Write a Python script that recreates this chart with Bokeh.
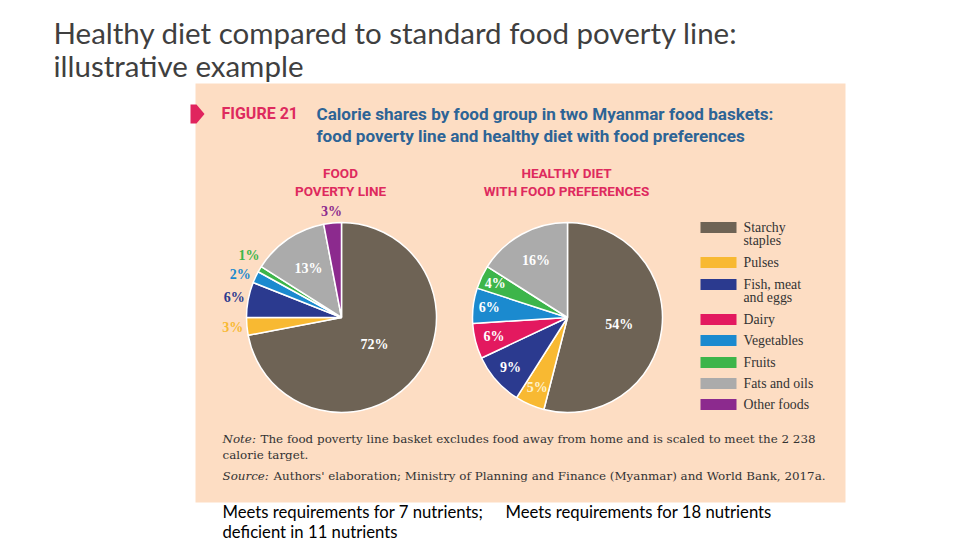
import math
from bokeh.plotting import figure
from bokeh.models import Range1d, ColumnDataSource
from bokeh.core.properties import value
from bokeh.embed import file_html
from bokeh.resources import INLINE

# ---------------- data ----------------
groups = ["Starchy staples", "Pulses", "Fish, meat and eggs", "Dairy",
          "Vegetables", "Fruits", "Fats and oils", "Other foods"]
legend_lines = [["Starchy", "staples"], ["Pulses"], ["Fish, meat", "and eggs"], ["Dairy"],
                ["Vegetables"], ["Fruits"], ["Fats and oils"], ["Other foods"]]
poverty_line = [72, 3, 6, 0, 2, 1, 13, 3]
healthy_diet = [54, 5, 9, 6, 6, 4, 16, 0]
colors = ["#6E6355", "#F8B932", "#2B3A8F", "#E3195F",
          "#1B8ACF", "#3DB54A", "#ABABAB", "#8C2A8E"]

# label placement (layout only): radius fraction and angular nudge (deg, clockwise)
frac_left = [0.45, 1.15, 1.15, 0.8, 1.16, 1.17, 0.62, 1.12]
nudge_left = [0, 0, 0, 0, -2, 3, 0, 0]
frac_right = [0.55, 0.8, 0.8, 0.8, 0.83, 0.84, 0.69, 0.8]
nudge_right = [0, 0, 0, 0, 0, 0, 0, 0]

W, H = 960, 540
def Y(py):
    return H - py

p = figure(width=W, height=H, x_range=Range1d(0, W), y_range=Range1d(0, H),
           output_backend="svg", toolbar_location=None, min_border=0,
           x_axis_location=None, y_axis_location=None)
p.grid.grid_line_color = None
p.outline_line_color = None
p.background_fill_color = "white"
p.border_fill_color = "white"

def txt(x, py, s, size, color, font, style="normal", align="left"):
    p.text(x=[x], y=[Y(py)], text=[s], text_font=value(font),
           text_font_size=value(f"{size}px"), text_color=color,
           text_font_style=style, text_align=align, text_baseline="middle")

# outer title
txt(53, 32, "Healthy diet compared to standard food poverty line:", 29.5, "#3F3F3F", "Lato")
txt(53, 65, "illustrative example", 29.5, "#3F3F3F", "Lato")

# panel
peach = "#FDDDC3"
p.quad(left=195, right=845, top=Y(83), bottom=Y(502), fill_color=peach, line_color=None)

# pink marker
p.patch(x=[190, 196, 204, 196, 190], y=[Y(104), Y(104), Y(113.5), Y(123), Y(123)],
        fill_color="#E0245E", line_color=None)

# figure header
pink = "#DE2A5E"
blue = "#2D6496"
txt(221, 113, "FIGURE 21", 16, pink, "Roboto", "bold")
txt(316, 113, "Calorie shares by food group in two Myanmar food baskets:", 17.1, blue, "Roboto", "bold")
txt(316, 135, "food poverty line and healthy diet with food preferences", 17.1, blue, "Roboto", "bold")

txt(340, 172, "FOOD", 13.5, pink, "Roboto", "bold", "center")
txt(340, 190, "POVERTY LINE", 13.5, pink, "Roboto", "bold", "center")
txt(566, 172, "HEALTHY DIET", 13.5, pink, "Roboto", "bold", "center")
txt(566, 190, "WITH FOOD PREFERENCES", 13.5, pink, "Roboto", "bold", "center")

# pies
R = 95
def pie(vals, cx, cy_px, fracs, nudges, inner_colors):
    total = float(sum(vals))
    cum = 0.0
    xs, ys, sa, ea, cols = [], [], [], [], []
    lx, ly, lt, lc = [], [], [], []
    for v, c, f, n, ic in zip(vals, colors, fracs, nudges, inner_colors):
        if v <= 0:
            continue
        s = cum / total
        e = (cum + v) / total
        cum += v
        xs.append(cx); ys.append(Y(cy_px))
        sa.append(math.pi / 2 - 2 * math.pi * e)
        ea.append(math.pi / 2 - 2 * math.pi * s)
        cols.append(c)
        m = math.pi / 2 - math.pi * (s + e) - math.radians(n)
        lx.append(cx + R * f * math.cos(m))
        ly.append(Y(cy_px) + R * f * math.sin(m))
        lt.append(f"{v}%")
        lc.append(c if f > 1 else ic)
    src = ColumnDataSource(dict(x=xs, y=ys, sa=sa, ea=ea, c=cols))
    p.wedge(x="x", y="y", radius=R, start_angle="sa", end_angle="ea",
            direction="anticlock", fill_color="c", line_color="white",
            line_width=1.5, source=src)
    lsrc = ColumnDataSource(dict(x=lx, y=ly, t=lt, c=lc))
    p.text(x="x", y="y", text="t", text_color="c", source=lsrc,
           text_font=value("Liberation Serif"), text_font_style="bold",
           text_font_size=value("14px"), text_align="center", text_baseline="middle")

inner_left = ["white"] * 8
inner_right = ["white", "#FFF2CC", "white", "white", "white", "white", "white", "white"]
pie(poverty_line, 341, 317, frac_left, nudge_left, inner_left)
pie(healthy_diet, 567, 317, frac_right, nudge_right, inner_right)

# legend
leg_y = [227, 262, 284, 319, 340, 362, 383, 404]
for lines, c, yy in zip(legend_lines, colors, leg_y):
    p.quad(left=700, right=736, top=Y(yy - 5.5), bottom=Y(yy + 5.5), fill_color=c, line_color=None)
    for i, ln in enumerate(lines):
        txt(743, yy + i * 13, ln, 13.8, "#333333", "Liberation Serif")

# note & source
ncol = "#333333"
fs = 11.9
nf = "DejaVu Serif"
txt(222, 438, "Note:", fs, ncol, nf, "italic")
txt(260, 438, "The food poverty line basket excludes food away from home and is scaled to meet the 2 238", fs, ncol, nf)
txt(222, 454, "calorie target.", fs, ncol, nf)
txt(222, 475, "Source:", fs, ncol, nf, "italic")
txt(273, 475, "Authors' elaboration; Ministry of Planning and Finance (Myanmar) and World Bank, 2017a.", fs, ncol, nf)

# captions
txt(222, 511, "Meets requirements for 7 nutrients;", 16.7, "black", "Lato")
txt(222, 531, "deficient in 11 nutrients", 16.7, "black", "Lato")
txt(505, 511, "Meets requirements for 18 nutrients", 16.7, "black", "Lato")

open("out.html", "w").write(file_html(p, INLINE))
